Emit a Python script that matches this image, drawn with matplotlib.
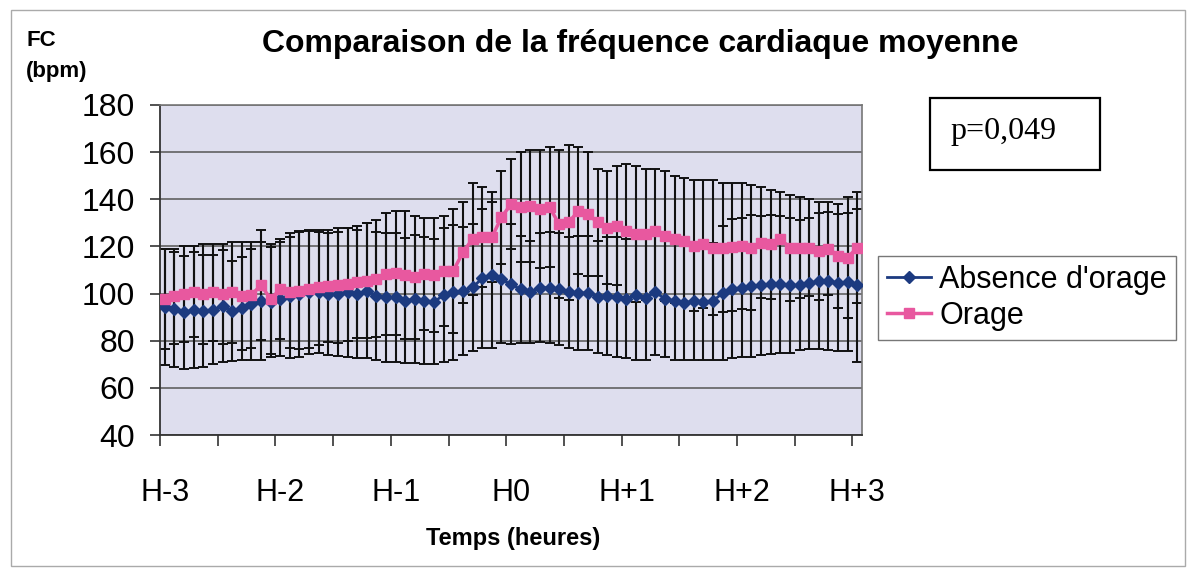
import numpy as np
import matplotlib
matplotlib.use("Agg")
import matplotlib.pyplot as plt
from matplotlib.patches import Rectangle

plt.rcParams['font.family'] = ['Liberation Sans', 'DejaVu Sans']

# donnees (pas de 5 min, H-3 -> H+3)
absence = [94.1, 93.4, 92.0, 93.1, 92.7, 93.1, 94.8, 92.7, 93.7, 95.5,
           97.0, 96.3, 97.7, 99.0, 99.8, 100.5, 100.5, 99.8, 99.8, 100.5,
           99.8, 101.2, 99.0, 98.4, 98.4, 97.0, 97.7, 97.0, 96.5, 99.4,
           100.5, 101.2, 102.6, 106.5, 107.9, 106.0, 103.9, 101.8, 100.6, 102.5,
           102.5, 101.8, 100.6, 100.3, 100.3, 98.6, 98.9, 98.6, 97.8, 99.2,
           98.2, 100.6, 97.8, 96.8, 96.1, 96.8, 96.4, 96.8, 100.3, 102.0,
           102.5, 103.2, 103.5, 103.9, 103.9, 103.5, 103.5, 104.3, 105.3, 105.3,
           104.6, 104.9, 103.5]
absence_sd = [24.6, 24.4, 24.0, 24.6, 23.7, 23.1, 23.8, 21.2, 21.7, 23.5,
              25.0, 23.3, 24.2, 26.5, 26.8, 26.0, 25.5, 25.8, 26.3, 27.5,
              27.3, 28.7, 27.0, 27.4, 27.4, 26.5, 27.2, 27.0, 26.5, 28.4,
              28.5, 27.2, 27.1, 29.5, 30.9, 27.0, 25.4, 22.8, 21.6, 23.0,
              23.5, 23.8, 23.6, 24.3, 24.3, 23.6, 24.9, 25.6, 25.3, 27.2,
              26.2, 26.6, 24.8, 24.8, 24.1, 24.8, 24.4, 24.8, 28.3, 29.5,
              29.5, 30.2, 29.5, 29.4, 28.9, 28.5, 27.5, 27.8, 28.8, 29.3,
              29.1, 29.4, 32.5]
orage = [97.7, 98.8, 99.8, 100.8, 99.8, 100.5, 99.8, 100.5, 99.0, 99.4,
         103.6, 97.7, 101.9, 100.5, 101.2, 101.9, 102.6, 103.3, 103.6, 104.0,
         104.8, 105.5, 106.2, 108.3, 108.7, 107.9, 106.9, 108.3, 107.9, 109.7,
         109.7, 117.5, 123.2, 123.9, 123.9, 132.3, 138.0, 136.6, 137.3, 135.9,
         136.6, 129.5, 130.2, 135.1, 133.7, 130.2, 128.0, 128.8, 126.6, 125.2,
         125.2, 126.6, 124.5, 123.1, 122.4, 120.2, 120.9, 119.5, 119.5, 119.9,
         120.2, 119.5, 121.6, 120.9, 123.1, 119.5, 119.5, 119.5, 118.1, 119.1,
         116.0, 115.3, 119.5]
orage_sd = [21.3, 20.2, 20.2, 19.2, 21.2, 20.5, 21.2, 21.5, 23.0, 22.6,
            23.4, 23.3, 21.1, 23.5, 24.8, 25.1, 24.4, 23.7, 24.4, 24.0,
            23.7, 24.5, 24.8, 25.7, 26.3, 27.1, 26.1, 23.7, 24.1, 23.3,
            26.3, 21.5, 23.8, 21.1, 19.1, 19.7, 19.0, 23.4, 23.7, 25.1,
            25.4, 31.5, 32.8, 26.9, 26.3, 22.8, 24.0, 25.2, 28.4, 28.8,
            27.8, 26.4, 27.5, 26.9, 26.6, 27.8, 27.1, 28.5, 27.5, 27.1,
            26.8, 26.5, 23.4, 23.1, 19.9, 22.5, 21.5, 20.5, 20.9, 19.9,
            22.0, 25.7, 23.5]
hour_labels = ['H-3', 'H-2', 'H-1', 'H0', 'H+1', 'H+2', 'H+3']

x = np.arange(len(absence))

fig = plt.figure(figsize=(11.9, 5.73), dpi=100)
ax = fig.add_axes([0.1345, 0.2408, 0.5899, 0.576])
ax.set_facecolor('#dedeee')

ax.errorbar(x, absence, yerr=absence_sd, fmt='none', ecolor='#111111',
            elinewidth=1.5, capsize=3.5, capthick=1.4, zorder=2)
ax.errorbar(x, orage, yerr=orage_sd, fmt='none', ecolor='#111111',
            elinewidth=1.5, capsize=3.5, capthick=1.4, zorder=2)
ax.plot(x, absence, color='#1c3a80', marker='D', markersize=6.5, lw=2,
        label="Absence d'orage", zorder=3)
ax.plot(x, orage, color='#e8589f', marker='s', markersize=6.5, lw=2.5,
        label='Orage', zorder=3)

ax.set_ylim(40, 180)
ax.set_yticks(range(40, 181, 20))
ax.yaxis.grid(True, color='#555555', lw=1.1)
ax.set_axisbelow(True)
ax.set_xlim(-0.5, len(x) - 0.5)
ax.set_xticks(np.arange(-0.5, len(x) - 1, 6))
ax.set_xticklabels([])
ax.set_xticks(np.arange(0, len(x), 12), minor=True)
ax.set_xticklabels(hour_labels, minor=True)
ax.tick_params(axis='x', which='major', length=8, width=1.2, color='#333333')
ax.tick_params(axis='x', which='minor', length=0, pad=31, labelsize=22)
ax.tick_params(axis='y', length=7, width=1.2, color='#333333', pad=11,
               labelsize=23)

for s in ['left', 'bottom']:
    ax.spines[s].set_color('#333333')
    ax.spines[s].set_linewidth(1.3)
for s in ['top', 'right']:
    ax.spines[s].set_color('#777777')
    ax.spines[s].set_linewidth(1.2)

fig.text(0.538, 1 - 44 / 573, 'Comparaison de la fréquence cardiaque moyenne',
         ha='center', va='center', fontsize=23, fontweight='bold')
fig.text(27 / 1190, 1 - 40 / 573, 'FC', ha='left', va='center', fontsize=16,
         fontweight='bold')
fig.text(26 / 1190, 1 - 71 / 573, '(bpm)', ha='left', va='center', fontsize=16,
         fontweight='bold')
fig.text(513 / 1190, 1 - 538 / 573, 'Temps (heures)', ha='center', va='center',
         fontsize=17, fontweight='bold')

# encadre p
fig.patches.append(Rectangle((930 / 1190, 1 - 170 / 573), 170 / 1190, 72 / 573,
                             transform=fig.transFigure, fill=False,
                             edgecolor='black', lw=1.6))
fig.text(1004 / 1190, 1 - 132 / 573, 'p=0,049', ha='center', va='center',
         fontsize=23, family='Liberation Serif')

leg = ax.legend(loc='center left', bbox_to_anchor=(878 / 1190, 1 - 298 / 573),
                bbox_transform=fig.transFigure, fontsize=22, frameon=True,
                fancybox=False, edgecolor='#555555', handlelength=1.45,
                handletextpad=0.25, borderpad=0.3, labelspacing=0.2,
                borderaxespad=0)
leg.get_frame().set_linewidth(1.0)

# cadre du graphique
fig.patches.append(Rectangle((11 / 1190, 7 / 573), 1174 / 1190, 556 / 573,
                             transform=fig.transFigure, fill=False,
                             edgecolor='#aaaaaa', lw=1))

fig.savefig('out.png', dpi=100)
